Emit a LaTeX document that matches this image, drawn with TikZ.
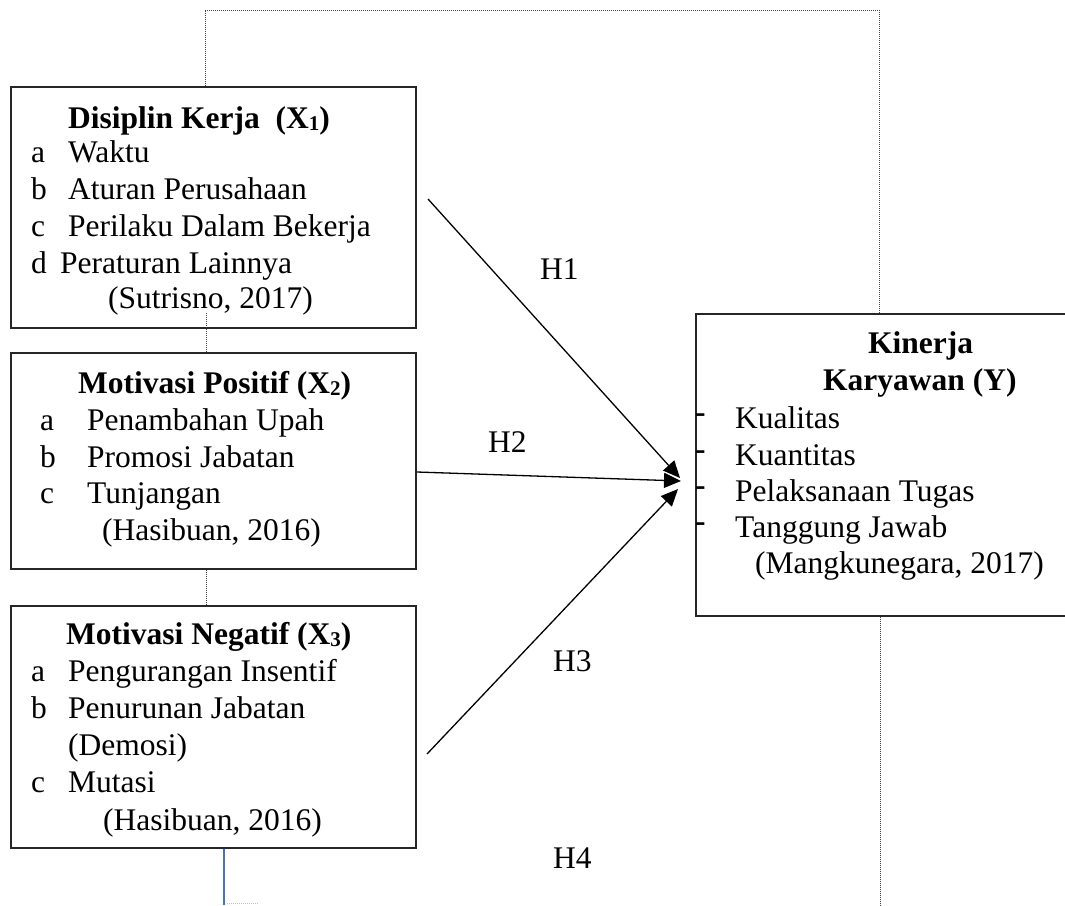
\documentclass[tikz,border=0pt]{standalone}
\usepackage{fontspec}
\setmainfont{Liberation Serif}
\usetikzlibrary{arrows.meta}
\definecolor{wordblue}{RGB}{68,114,196}
\newcommand{\subdig}[1]{\raisebox{-2pt}{\fontsize{21}{21}\selectfont #1}}
\newcommand{\ydash}{\makebox[40pt][l]{\raisebox{6pt}{\textbf{-}}}}
\begin{document}
\begin{tikzpicture}[x=1pt,y=-1pt,
  every node/.style={font=\fontsize{31.5}{36}\selectfont, inner sep=0pt},
  box/.style={draw=black!85, line width=1.5pt, anchor=north west, inner sep=0pt},
  txt/.style={anchor=base west},
  dots/.style={draw=black!75, line width=0.9pt, dash pattern=on 1pt off 1pt},
  arr/.style={line width=1.3pt, -{Triangle[length=17pt,width=15pt]}},
  blueline/.style={draw=wordblue, line width=1.6pt}]
\clip (0,0) rectangle (1065,905);
% boxes
\node[box, minimum width=405pt, minimum height=241pt] (X1) at (10,86) {};
\node[box, minimum width=405pt, minimum height=216pt] (X2) at (10,352) {};
\node[box, minimum width=405pt, minimum height=242pt] (X3) at (10,605) {};
\node[box, minimum width=385pt, minimum height=302pt] (Y) at (695,313) {};
% X1 texts
\node[txt] (x1t) at (68,128) {\textbf{Disiplin Kerja\ \ (X\subdig{1})}};
\node[txt] (x1a) at (31,162) {\makebox[37pt][l]{a}Waktu};
\node[txt] (x1b) at (31,199) {\makebox[37pt][l]{b}Aturan Perusahaan};
\node[txt] (x1c) at (31,236) {\makebox[37pt][l]{c}Perilaku Dalam Bekerja};
\node[txt] (x1d) at (31,273) {\makebox[29pt][l]{d}Peraturan Lainnya};
\node[txt] (x1s) at (108,308) {(Sutrisno, 2017)};
% X2 texts
\node[txt] (x2t) at (78,393) {\textbf{Motivasi Positif (X\subdig{2})}};
\node[txt] (x2a) at (40,430) {\makebox[47pt][l]{a}Penambahan Upah};
\node[txt] (x2b) at (40,467) {\makebox[47pt][l]{b}Promosi Jabatan};
\node[txt] (x2c) at (40,503) {\makebox[47pt][l]{c}Tunjangan};
\node[txt] (x2s) at (102,540) {(Hasibuan, 2016)};
% X3 texts
\node[txt] (x3t) at (66,644) {\textbf{Motivasi Negatif (X\subdig{3})}};
\node[txt] (x3a) at (31,681) {\makebox[37pt][l]{a}Pengurangan Insentif};
\node[txt] (x3b) at (31,718) {\makebox[37pt][l]{b}Penurunan Jabatan};
\node[txt] (x3b2) at (68,755) {(Demosi)};
\node[txt] (x3c) at (31,792) {\makebox[37pt][l]{c}Mutasi};
\node[txt] (x3s) at (103,830) {(Hasibuan, 2016)};
% Y texts
\node[txt] (yt1) at (868,353) {\textbf{Kinerja}};
\node[txt] (yt2) at (823,390) {\textbf{Karyawan (Y)}};
\node[txt] (ya) at (695,428) {\ydash Kualitas};
\node[txt] (yb) at (695,465) {\ydash Kuantitas};
\node[txt] (yc) at (695,501) {\ydash Pelaksanaan Tugas};
\node[txt] (yd) at (695,537) {\ydash Tanggung Jawab};
\node[txt] (ys) at (755,573) {(Mangkunegara, 2017)};
% labels
\node[txt] (h1) at (540,279) {H1};
\node[txt] (h2) at (488,452) {H2};
\node[txt] (h3) at (553,671) {H3};
\node[txt] (h4) at (553,868) {H4};
% dotted connectors
\coordinate (c1) at (205,10);
\coordinate (c2) at (879,10);
\draw[dots] (X1.north -| c1) -- (c1) -- (c2) -- (c2 |- Y.north);
\coordinate (d1) at (206,313);
\draw[dots] (d1) -- (d1 |- X2.north);
\draw[dots] (X2.south -| d1) -- (X3.north -| d1);
\coordinate (c3) at (880,905);
\draw[dots] (Y.south -| c3) -- (c3);
\coordinate (b1) at (224,905);
\draw[blueline] (X3.south -| b1) -- (b1);
\coordinate (b2) at (227,903);
\coordinate (b3) at (258,903);
\draw[draw=black!25, line width=0.8pt, dash pattern=on 1pt off 1pt] (b2) -- (b3);
% arrows
\coordinate (s1) at (428,199);
\coordinate (s2) at (417,472);
\coordinate (s3) at (427,754);
\coordinate (t1) at (680,478);
\coordinate (t2) at (681,481);
\coordinate (t3) at (678,489);
\draw[arr] (s1) -- (t1);
\draw[arr] (s2) -- (t2);
\draw[arr] (s3) -- (t3);
\end{tikzpicture}
\end{document}
